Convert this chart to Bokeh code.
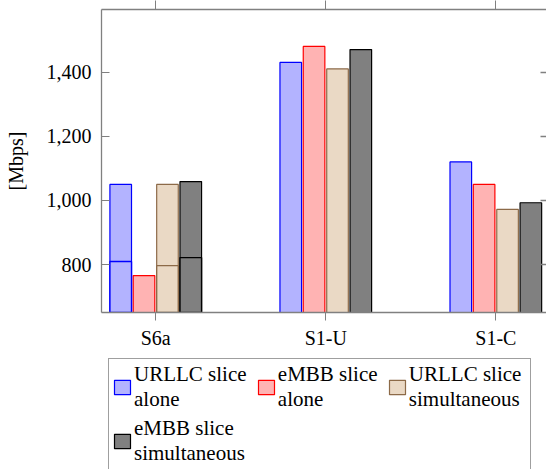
from bokeh.plotting import figure
from bokeh.layouts import column
from bokeh.models import (Range1d, FixedTicker, LinearAxis, Legend, LegendItem,
                          NumeralTickFormatter, ColumnDataSource)
from bokeh.embed import file_html
from bokeh.resources import INLINE

# ---------------- data ----------------
categories = ["S6a", "S1-U", "S1-C"]
series_labels = ["URLLC slice \nalone", "eMBB slice \nalone",
                 "URLLC slice \nsimultaneous", "eMBB slice \nsimultaneous"]
urllc_alone = [1050, 1430, 1120]
embb_alone = [766, 1480, 1050]
urllc_sim = [1050, 1410, 972]
embb_sim = [1059, 1470, 993]
# second (overlapping) readings drawn at S6a
second_categories = ["S6a"]
urllc_alone_2 = [810]
urllc_sim_2 = [797]
embb_sim_2 = [822]

y_ticks = [800, 1000, 1200, 1400]

# ---------------- styles ----------------
fills = ["#b3b3ff", "#ffb3b3", "#ead9c5", "#808080"]
lines = ["#0000ff", "#ff0000", "#8c6a48", "#000000"]
offsets = [-0.206, -0.069, 0.069, 0.206]
bar_w = 0.127
FONT = "Liberation Serif"
AX = "#808080"
X_START, X_END, X_AXIS_RIGHT = -0.319, 2.298, 2.312

idx = {c: i for i, c in enumerate(categories)}

p = figure(width=546, height=351, output_backend="svg", toolbar_location=None,
           x_range=Range1d(X_START, X_END), y_range=Range1d(651, 1595),
           min_border_left=101, min_border_top=9, min_border_right=0,
           min_border_bottom=39)
p.outline_line_color = None
p.xgrid.visible = False
p.ygrid.visible = False
p.background_fill_color = "white"
p.border_fill_color = "white"

main = [urllc_alone, embb_alone, urllc_sim, embb_sim]
second = [urllc_alone_2, None, urllc_sim_2, embb_sim_2]
sources = []
for k, vals in enumerate(main):
    src = ColumnDataSource(dict(x=[idx[c] + offsets[k] for c in categories], top=vals))
    sources.append(src)
    p.vbar(x="x", top="top", bottom=0, width=bar_w, source=src,
           fill_color=fills[k], line_color=lines[k], line_width=1.2)
for k, vals in enumerate(second):
    if vals is None:
        continue
    src = ColumnDataSource(dict(x=[idx[c] + offsets[k] for c in second_categories], top=vals))
    p.vbar(x="x", top="top", bottom=0, width=bar_w, source=src,
           fill_color=fills[k], line_color=lines[k], line_width=1.4)

xt = FixedTicker(ticks=list(range(len(categories))))
xax = p.xaxis[0]
xax.ticker = xt
xax.major_label_overrides = {i: c for i, c in enumerate(categories)}
xax.major_tick_out = 8
xax.major_tick_in = 0
xax.minor_tick_line_color = None
xax.axis_line_color = AX
xax.major_tick_line_color = AX
xax.axis_line_width = 1.3
xax.major_label_text_font = FONT
xax.major_label_text_font_size = "20px"
xax.major_label_text_color = "black"
xax.major_label_standoff = 6

top_ax = LinearAxis(ticker=xt, major_tick_out=9, major_tick_in=0,
                    major_label_text_font_size="0px", major_label_standoff=0,
                    minor_tick_line_color=None, axis_line_color=AX,
                    major_tick_line_color=AX, axis_line_width=1.3)
top_ax.major_label_overrides = {i: "" for i in range(len(categories))}
p.add_layout(top_ax, "above")

yt = FixedTicker(ticks=y_ticks)
yax = p.yaxis[0]
yax.ticker = yt
yax.formatter = NumeralTickFormatter(format="0,0")
yax.major_tick_in = 8
yax.major_tick_out = 0
yax.minor_tick_line_color = None
yax.axis_line_color = AX
yax.major_tick_line_color = AX
yax.axis_line_width = 1.3
yax.major_label_text_font = FONT
yax.major_label_text_font_size = "20px"
yax.major_label_text_color = "black"
yax.major_label_standoff = 10
yax.axis_label = "[Mbps]"
yax.axis_label_text_font = FONT
yax.axis_label_text_font_size = "20px"
yax.axis_label_text_font_style = "normal"
yax.axis_label_text_color = "black"
yax.axis_label_standoff = 17

# right-hand frame side lies just beyond the window; only its inward ticks show
right_ax = LinearAxis(ticker=yt, fixed_location=X_AXIS_RIGHT, major_tick_in=8,
                      major_tick_out=0, major_label_text_font_size="0px",
                      major_label_standoff=0, minor_tick_line_color=None,
                      axis_line_color=AX, major_tick_line_color=AX,
                      major_tick_line_width=1.3)
right_ax.major_label_overrides = {v: "" for v in y_ticks}
p.add_layout(right_ax, "right")

# ---------------- legend (own panel below the chart) ----------------
# legend proxies share the bar sources; this panel's y range lies above every bar
lf = figure(width=546, height=118, output_backend="svg", toolbar_location=None,
            x_range=Range1d(X_START, X_END), y_range=Range1d(2000, 3000),
            min_border_left=97, min_border_top=0, min_border_right=0,
            min_border_bottom=0, x_axis_location=None, y_axis_location=None)
lf.outline_line_color = None
lf.xgrid.visible = False
lf.ygrid.visible = False
lf.border_fill_color = "white"
items = []
for k in range(4):
    r = lf.vbar(x="x", top="top", bottom=0, width=bar_w, source=sources[k],
                fill_color=fills[k], line_color=lines[k], line_width=1.2)
    items.append(LegendItem(label=series_labels[k], renderers=[r]))
legend = Legend(items=items, ncols=3, orientation="horizontal",
                location="top_left",
                label_text_font=FONT, label_text_font_size="21px",
                label_text_line_height=1.26, label_text_color="black",
                glyph_width=20, glyph_height=18, label_standoff=2,
                spacing=4, padding=3, margin=7,
                border_line_color="#404040", border_line_width=1,
                background_fill_color="white", background_fill_alpha=1)
lf.add_layout(legend, "center")

layout = column(p, lf, spacing=0)
open("out.html", "w").write(file_html(layout, INLINE))
